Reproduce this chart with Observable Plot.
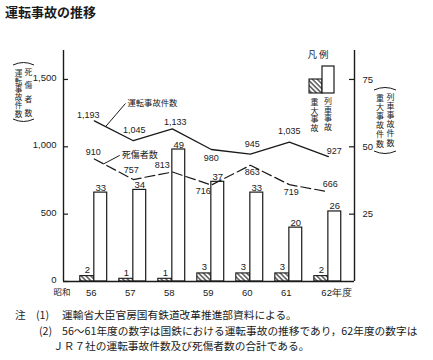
<!DOCTYPE html>
<html><head><meta charset="utf-8">
<script src="https://cdn.jsdelivr.net/npm/d3@7"></script>
<script src="https://cdn.jsdelivr.net/npm/@observablehq/plot@0.6"></script>
<style>
html,body{margin:0;padding:0;background:#fff;}
body{width:433px;height:360px;position:relative;overflow:hidden;font-family:"Noto Sans CJK JP",sans-serif;color:#1a1a1a;}
#chart{position:absolute;left:0;top:0;width:433px;height:300px;}
.t{position:absolute;white-space:nowrap;font-size:10.7px;line-height:12px;}
</style></head><body>
<div id="chart"></div>
<div class="t" style="left:5px;top:5px;font-size:13px;line-height:14px;font-weight:bold;">運転事故の推移</div>
<div class="t" style="left:15px;top:309px;">注</div>
<div class="t" style="left:36px;top:309px;">(1)</div>
<div class="t" style="left:62px;top:309px;">運輸省大臣官房国有鉄道改革推進部資料による。</div>
<div class="t" style="left:39px;top:325px;">(2)</div>
<div class="t" style="left:62px;top:325px;">56～61年度の数字は国鉄における運転事故の推移であり，62年度の数字は</div>
<div class="t" style="left:53px;top:340px;">ＪＲ７社の運転事故件数及び死傷者数の合計である。</div>
<script>
// ---- data ----
const years = [56, 57, 58, 59, 60, 61, 62];
const xLabels = ["56", "57", "58", "59", "60", "61", "62年度"];
const accidents = [1193, 1045, 1133, 980, 945, 1035, 927];      // 運転事故件数 (left axis)
const casualties = [910, 757, 813, 716, 863, 719, 666];          // 死傷者数 (left axis)
const majorAccidents = [2, 1, 1, 3, 3, 3, 2];                    // 重大事故 (right axis)
const trainAccidents = [33, 34, 49, 37, 33, 20, 26];             // 列車事故 (right axis)
const leftTicks = [0, 500, 1000, 1500];
const rightTicks = [25, 50, 75];
const RATIO = 20; // right-axis unit -> left-axis unit (75 ↔ 1,500)

// ---- styles ----
const ink = "#1a1a1a";
const numFont = '"Liberation Sans", Arial, sans-serif';
const jpFont = '"Noto Sans CJK JP", sans-serif';
const fmt = d3.format(",");
const HATCH_W = 0.36, WHITE_W = 0.33;
const xDomain = [55.21, 62.67];
const accOff = [[-6,-6],[1,-11],[3,-7],[0,9],[2,-10],[0,-11],[6,-6]];
const casOff = [[-1,-7],[-2,-9],[-10,-7],[-8,6],[2,7],[2,7],[2,-8]];

const rows = years.map((y, i) => ({
  year: y, label: xLabels[i], acc: accidents[i], cas: casualties[i],
  major: majorAccidents[i], train: trainAccidents[i]
}));

const annotations = [
  {label: "運転事故件数", series: accidents, from: 0.29, year: 56.80, value: 1322, size: 8.3},
  {label: "死傷者数", series: casualties, from: 0.24, year: 56.65, value: 936, size: 9}
];

const marks = [
  Plot.rect(rows, {x1: d => d.year - HATCH_W, x2: d => d.year, y1: 0, y2: d => d.major * RATIO,
    fill: "url(#hatch)", stroke: ink, strokeWidth: 1.1}),
  Plot.rect(rows, {x1: d => d.year, x2: d => d.year + WHITE_W, y1: 0, y2: d => d.train * RATIO,
    fill: "white", stroke: ink, strokeWidth: 1.2}),
  Plot.line(rows, {x: "year", y: "acc", stroke: ink, strokeWidth: 1.3}),
  Plot.line(rows, {x: "year", y: "cas", stroke: ink, strokeWidth: 1.2, strokeDasharray: "10,4"}),
  // bar value labels
  Plot.text(rows, {x: d => d.year + WHITE_W / 2, y: d => d.train * RATIO, text: d => String(d.train),
    lineAnchor: "bottom", dy: -2, fontSize: 9.5, fill: ink}),
  Plot.text(rows, {x: d => d.year - HATCH_W / 2, y: d => d.major * RATIO, text: d => String(d.major),
    lineAnchor: "bottom", dy: -3, fontSize: 9.5, fill: ink}),
  // series value labels
  ...rows.map((d, i) => Plot.text([d], {x: "year", y: "acc", text: r => fmt(r.acc),
    dx: accOff[i][0], dy: accOff[i][1], fontSize: 9, fill: ink})),
  ...rows.map((d, i) => Plot.text([d], {x: "year", y: "cas", text: r => fmt(r.cas),
    dx: casOff[i][0], dy: casOff[i][1], fontSize: 9, fill: ink})),
  // series annotations with leader lines
  Plot.link(annotations, {
    x1: a => years[0] + a.from, y1: a => a.series[0] + a.from * (a.series[1] - a.series[0]),
    x2: "year", y2: "value", stroke: ink, strokeWidth: 1
  }),
  ...annotations.map(a => Plot.text([a], {x: "year", y: "value", text: "label", textAnchor: "start",
    dx: 2, fontSize: a.size, fontFamily: jpFont, fill: ink})),
  // x labels
  Plot.text(rows.slice(0, 6), {x: "year", y: 0, text: "label", dx: -3, dy: 11, fontSize: 9.5, fill: ink}),
  Plot.text(rows.slice(6), {x: "year", y: 0, text: "label", textAnchor: "start", dx: -7, dy: 11, fontSize: 9.5, fill: ink}),
  Plot.text(["昭和"], {frameAnchor: "bottom-left", text: d => d, textAnchor: "start", dx: -10, dy: 13,
    fontSize: 8.5, fontFamily: jpFont, fill: ink}),
  // axes
  Plot.ruleY(leftTicks, {y: d => d, insetRight: 286, stroke: ink, strokeWidth: 1.2}),
  Plot.ruleY(rightTicks, {y: d => d * RATIO, insetLeft: 286, stroke: ink, strokeWidth: 1.2}),
  Plot.text(leftTicks, {y: d => d, frameAnchor: "left", textAnchor: "end", dx: -7, dy: -1.5, text: d => fmt(d), fontSize: 9.5, fill: ink}),
  Plot.text(rightTicks, {y: d => d * RATIO, frameAnchor: "right", textAnchor: "start", dx: 8, text: d => String(d), fontSize: 9.5, fill: ink}),
  Plot.ruleX(xDomain, {x: d => d, stroke: ink, strokeWidth: 1.4}),
  Plot.ruleY([0], {stroke: ink, strokeWidth: 1.4})
];

const plot = Plot.plot({
  width: 433, height: 300,
  marginLeft: 63, marginRight: 79, marginTop: 50, marginBottom: 19,
  x: {domain: xDomain, axis: null},
  y: {domain: [0, 1715], axis: null},
  style: {fontFamily: numFont, fontSize: "9px", color: ink, background: "transparent"},
  marks
});
document.getElementById("chart").append(plot);

// ---- decorations: hatch pattern, axis titles, legend ----
const svg = d3.select(plot);
const defs = svg.insert("defs", ":first-child");
defs.append("pattern").attr("id", "hatch").attr("patternUnits", "userSpaceOnUse")
  .attr("width", 3.4).attr("height", 3.4).attr("patternTransform", "rotate(-45)")
  .call(p => p.append("rect").attr("width", 3.4).attr("height", 3.4).attr("fill", "white"))
  .append("line").attr("x1", 1.7).attr("x2", 1.7).attr("y1", 0).attr("y2", 3.4)
  .attr("stroke", ink).attr("stroke-width", 1.1);

const g = svg.append("g");
// vertical (tategaki) text: one text element per column, aligned by its measured box
function vtext(chars, xCenter, yTop, step, size) {
  const t = g.append("text").attr("font-family", jpFont).attr("font-size", size)
    .attr("fill", ink).attr("x", 0).attr("y", 0)
    .style("writing-mode", "vertical-rl").style("text-orientation", "upright")
    .style("letter-spacing", `${step - size}px`).text(chars);
  const bb = t.node().getBBox();
  t.attr("transform", `translate(${xCenter - (bb.x + bb.width / 2)},${yTop - bb.y})`);
}
function brace(x1, x2, y, up) {
  const cy = up ? y - 5 : y + 5;
  g.append("path").attr("d", `M${x1},${y} Q${(x1 + x2) / 2},${cy} ${x2},${y}`)
    .attr("fill", "none").attr("stroke", ink).attr("stroke-width", 1);
}
// left axis title
brace(13, 34, 65, true);
vtext("運転事故件数", 18.5, 67.5, 8.2, 7.6);
vtext("死傷者数", 28.5, 67.5, 13.7, 7.8);
brace(13, 34, 119, false);
// right axis title
brace(374, 396, 90, true);
vtext("重大事故件数", 380, 92.5, 9.2, 8);
vtext("列車事故件数", 390.5, 92.5, 9.2, 8);
brace(374, 396, 151, false);
// legend
g.append("text").attr("x", 318).attr("y", 55 + 3.4).attr("text-anchor", "middle")
  .attr("font-family", jpFont).attr("font-size", 9.5).attr("fill", ink).text("凡 例");
g.append("rect").attr("x", 309).attr("y", 79).attr("width", 13).attr("height", 14)
  .attr("fill", "url(#hatch)").attr("stroke", ink).attr("stroke-width", 1.1);
g.append("rect").attr("x", 322).attr("y", 66).attr("width", 12).attr("height", 27)
  .attr("fill", "white").attr("stroke", ink).attr("stroke-width", 1.2);
vtext("重大事故", 314.5, 97, 8.6, 8);
vtext("列車事故", 328, 97, 8.6, 8);
</script>
</body></html>
